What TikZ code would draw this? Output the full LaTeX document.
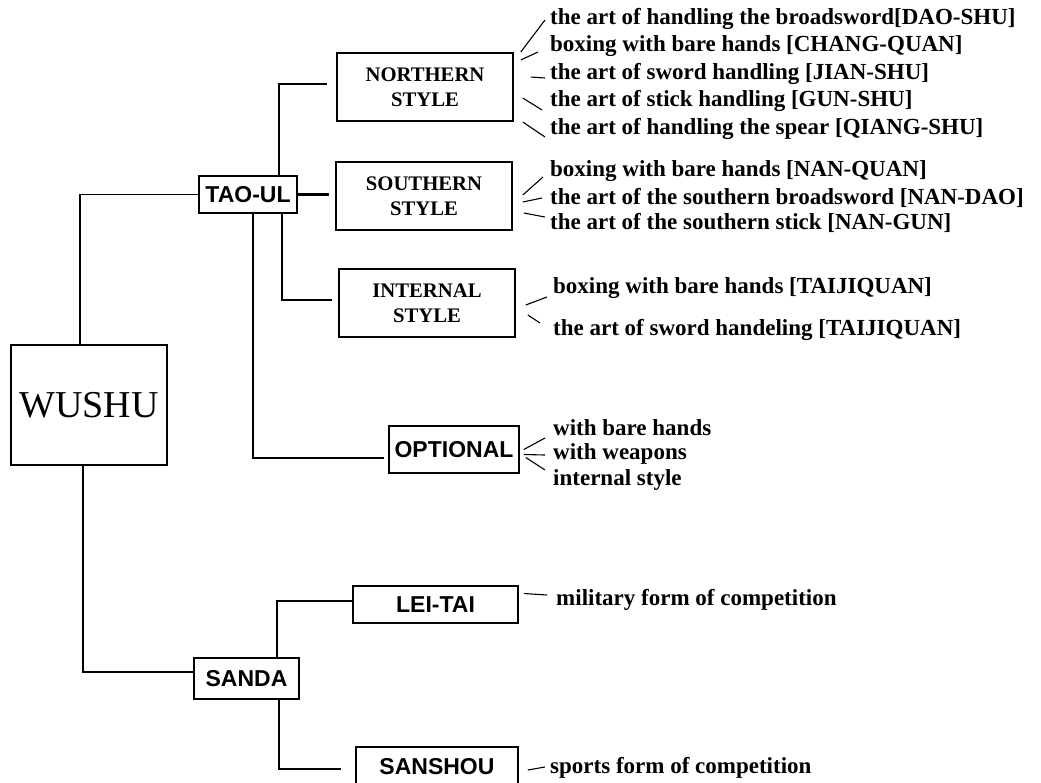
\documentclass[tikz,border=0pt]{standalone}
\usepackage{fontspec}
\setmainfont{Liberation Serif}
\newfontfamily\labelsans{Liberation Sans}
\usepackage{tikz}
\usetikzlibrary{shapes.geometric, arrows}
\tikzstyle{rootbox} = [rectangle, minimum width=156pt, minimum height=120pt, text centered, draw=black, line width=2pt, font=\fontsize{38}{40}\selectfont]
\tikzstyle{stylebox} = [rectangle, minimum width=176pt, minimum height=68pt, align=center, draw=black, line width=1.6pt, font=\fontsize{20.7}{25}\selectfont\bfseries]
\tikzstyle{formbox} = [rectangle, minimum height=37pt, text centered, draw=black, line width=1.6pt, font=\labelsans\fontsize{23}{24}\selectfont\bfseries]
\tikzstyle{leaf} = [anchor=west, inner sep=0pt, font=\fontsize{23}{26}\selectfont\bfseries]
\tikzstyle{link} = [line width=1.5pt]
\tikzstyle{boldlink} = [line width=2.6pt]
\tikzstyle{tick} = [line width=1.1pt]

\begin{document}
\begin{tikzpicture}[x=1pt, y=-1pt, node distance=100pt]
		\clip (0,0) rectangle (1041,782);

		\node (wushu) [rootbox] at (89,405) {WUSHU};
		\node (taoul) [formbox, right of=wushu, xshift=59pt, yshift=210.5pt, minimum width=98pt] {TAO-UL};
		\node (north) [stylebox, right of=taoul, xshift=77pt, yshift=107.5pt] {NORTHERN\\STYLE};
		\node (south) [stylebox, right of=taoul, xshift=76pt, yshift=-1.5pt] {SOUTHERN\\STYLE};
		\node (intern) [stylebox, right of=taoul, xshift=79pt, yshift=-108.5pt] {INTERNAL\\STYLE};
		\node (optional) [formbox, right of=taoul, xshift=106pt, yshift=-255pt, minimum width=130pt, minimum height=47pt] {OPTIONAL};
		\node (sanda) [formbox, right of=wushu, xshift=57.5pt, yshift=-273.5pt, minimum width=105pt, minimum height=41pt] {SANDA};
		\node (leitai) [formbox, right of=sanda, xshift=89pt, yshift=74pt, minimum width=165pt] {LEI-TAI};
		\node (sanshou) [formbox, right of=sanda, xshift=90.5pt, yshift=-88.5pt, minimum width=162pt, minimum height=40pt] {SANSHOU};

		% leaves
		\node (n1) [leaf] at (550,19) {the art of handling the broadsword[DAO-SHU]};
		\node (n2) [leaf] at (550,46) {boxing with bare hands [CHANG-QUAN]};
		\node (n3) [leaf] at (550,74) {the art of sword handling [JIAN-SHU]};
		\node (n4) [leaf] at (550,101) {the art of stick handling [GUN-SHU]};
		\node (n5) [leaf] at (550,129) {the art of handling the spear [QIANG-SHU]};
		\node (s1) [leaf] at (550,171) {boxing with bare hands [NAN-QUAN]};
		\node (s2) [leaf] at (550,198) {the art of the southern broadsword [NAN-DAO]};
		\node (s3) [leaf] at (550,223) {the art of the southern stick [NAN-GUN]};
		\node (i1) [leaf] at (553,288) {boxing with bare hands [TAIJIQUAN]};
		\node (i2) [leaf] at (553,330) {the art of sword handeling [TAIJIQUAN]};
		\node (o1) [leaf] at (553,428) {with bare hands};
		\node (o2) [leaf] at (553,454) {with weapons};
		\node (o3) [leaf] at (553,480) {internal style};
		\node (l1) [leaf] at (556,600) {military form of competition};
		\node (t1) [leaf] at (550,768) {sports form of competition};

		% branches
		\draw [link] ([xshift=-9pt]wushu.north) |- (taoul.west);
		\draw [boldlink, shorten >=9pt] ([xshift=31pt]taoul.north) |- ([yshift=3pt]north.west);
		\draw [boldlink, shorten >=6pt] (taoul.east) -- (taoul.east -| south.west);
		\draw [link, shorten >=6pt] ([xshift=34pt]taoul.south) |- ([yshift=3pt]intern.west);
		\draw [boldlink, shorten >=4pt] ([xshift=5pt]taoul.south) |- ([yshift=-8.5pt]optional.west);
		\draw [link] ([xshift=-6pt]wushu.south) |- ([yshift=6.5pt]sanda.west);
		\draw [link] ([xshift=30.5pt]sanda.north) |- ([yshift=3.5pt]leitai.west);
		\draw [boldlink, shorten >=14pt] ([xshift=32.5pt]sanda.south) |- ([yshift=-2pt]sanshou.west);

		% ticks
		\draw [tick] ([xshift=7pt, yshift=35pt]north.east) -- ([xshift=-5pt, yshift=-1pt]n1.west);
		\draw [tick] ([xshift=7pt, yshift=27pt]north.east) -- ([xshift=-12pt, yshift=-6pt]n2.west);
		\draw [tick] ([xshift=17pt, yshift=10pt]north.east) -- ([xshift=-5pt, yshift=-4pt]n3.west);
		\draw [tick] ([xshift=9pt, yshift=-11pt]north.east) -- ([xshift=-8pt, yshift=-9pt]n4.west);
		\draw [tick] ([xshift=9pt, yshift=-35pt]north.east) -- ([xshift=-5pt, yshift=-8pt]n5.west);
		\draw [tick] ([xshift=10pt, yshift=1pt]south.east) -- ([xshift=-7pt, yshift=-6pt]s1.west);
		\draw [tick] ([xshift=10pt, yshift=-6pt]south.east) -- ([xshift=-8pt]s2.west);
		\draw [tick] ([xshift=11pt, yshift=-17pt]south.east) -- ([xshift=-5pt, yshift=6pt]s3.west);
		\draw [tick] ([xshift=10pt, yshift=-2pt]intern.east) -- ([xshift=-6pt, yshift=-9pt]i1.west);
		\draw [tick] ([xshift=12pt, yshift=-12pt]intern.east) -- ([xshift=-13pt, yshift=7pt]i2.west);
		\draw [tick] ([xshift=4pt]optional.east) -- ([xshift=-8pt, yshift=-10pt]o1.west);
		\draw [tick] ([xshift=4pt, yshift=-5pt]optional.east) -- ([xshift=-8pt, yshift=-1pt]o2.west);
		\draw [tick] ([xshift=6pt, yshift=-8pt]optional.east) -- ([xshift=-8pt, yshift=10pt]o3.west);
		\draw [tick] ([xshift=5pt, yshift=11pt]leitai.east) -- ([xshift=-9pt, yshift=5pt]l1.west);
		\draw [tick] ([xshift=9pt, yshift=-3pt]sanshou.east) -- ([xshift=-5pt, yshift=1pt]t1.west);
	\end{tikzpicture}
\end{document}
